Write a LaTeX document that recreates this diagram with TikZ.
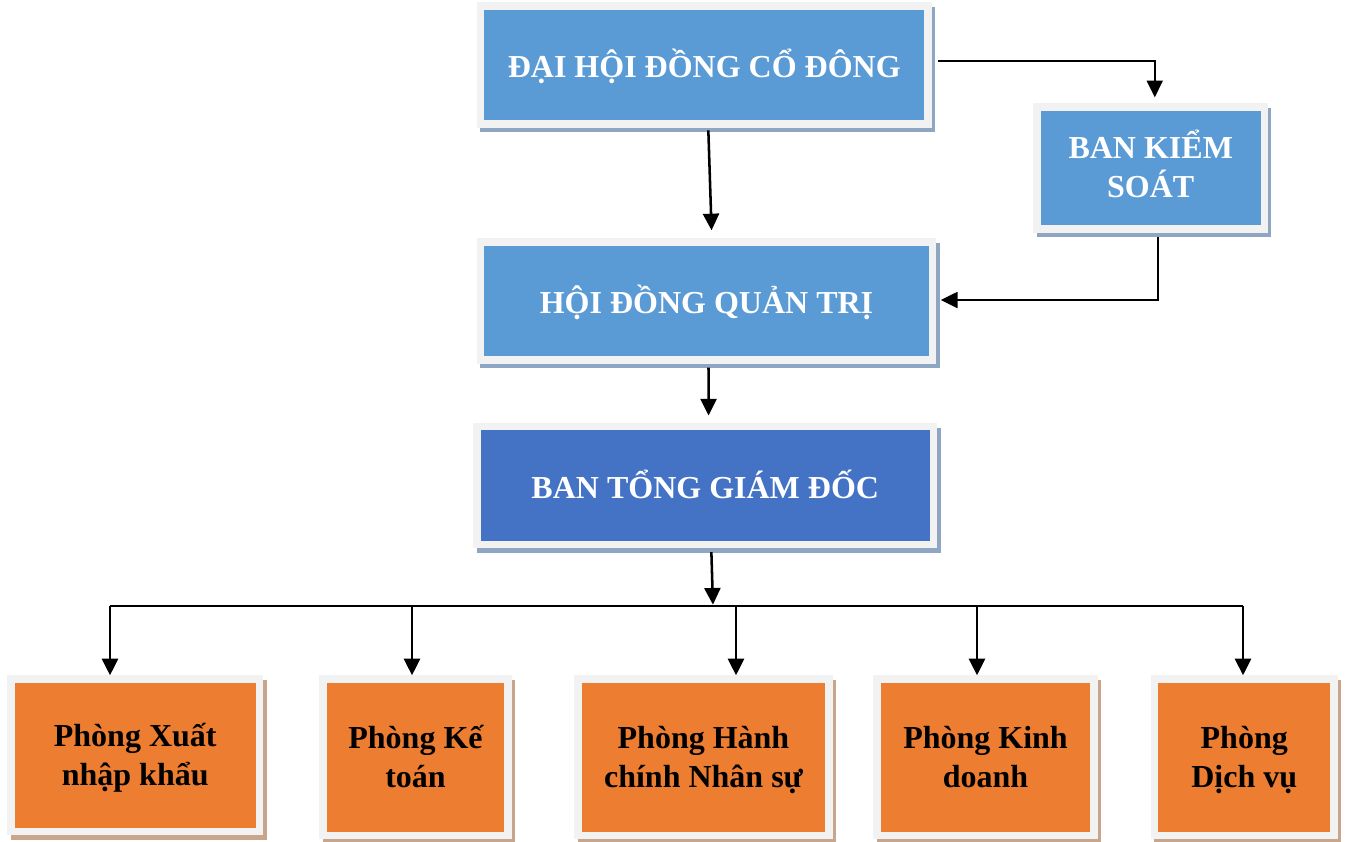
\documentclass[tikz,border=0pt]{standalone}
\usepackage{fontspec}
\setmainfont{Liberation Serif}
\usetikzlibrary{arrows.meta}
\definecolor{framegray}{HTML}{F2F2F2}
\definecolor{lblue}{HTML}{5B9BD5}
\definecolor{dblue}{HTML}{4472C4}
\definecolor{orng}{HTML}{ED7D31}
\definecolor{bshadow}{HTML}{8EA6C2}
\definecolor{oshadow}{HTML}{C9A58C}
\tikzset{
  boxbase/.style={draw=framegray, line width=5.5pt, align=center, inner sep=0pt,
    text height=19pt, text depth=0pt,
    font=\fontsize{24}{29.25}\selectfont\bfseries},
  twoline/.style={text height=#1, text depth=0pt},
  bluebox/.style={boxbase, fill=lblue, text=white,
    preaction={draw=bshadow, fill=bshadow, transform canvas={shift={(2.5pt,-3.5pt)}}}},
  darkbox/.style={boxbase, fill=dblue, text=white,
    preaction={draw=bshadow, fill=bshadow, transform canvas={shift={(2.5pt,-3.5pt)}}}},
  orangebox/.style={boxbase, fill=orng, text=black, twoline=45pt,
    preaction={draw=oshadow, fill=oshadow, transform canvas={shift={(2.5pt,-3.5pt)}}}},
  arr/.style={line width=1.9pt, -{Triangle[length=12.5pt,width=12pt]}},
  busline/.style={line width=1.2pt}
}
\begin{document}
\begin{tikzpicture}[x=0.75pt,y=-0.75pt]
\useasboundingbox (0,0) rectangle (1346,842);
% top-level boxes
\node[bluebox, minimum width=335.6pt, minimum height=88.5pt] (A) at (704.25,65) {ĐẠI HỘI ĐỒNG CỔ ĐÔNG};
\node[bluebox, twoline=43.5pt, minimum width=170.6pt, minimum height=91.5pt] (B) at (1150.75,168) {BAN KIỂM\\SOÁT};
\node[bluebox, minimum width=339pt, minimum height=88.5pt] (C) at (706.5,301) {HỘI ĐỒNG QUẢN TRỊ};
\node[darkbox, minimum width=342.4pt, minimum height=88.5pt] (D) at (705.25,485.5) {BAN TỔNG GIÁM ĐỐC};
% departments
\node[orangebox, minimum width=186.4pt, minimum height=114.4pt] (E1) at (135.25,755.25) {Phòng Xuất\\nhập khẩu};
\node[orangebox, minimum width=138.75pt, minimum height=117.4pt] (E2) at (415.5,757.25) {Phòng Kế\\toán};
\node[orangebox, minimum width=188.25pt, minimum height=117.4pt] (E3) at (703.5,757.25) {Phòng Hành\\chính Nhân sự};
\node[orangebox, minimum width=162.75pt, minimum height=117.4pt] (E4) at (985.5,757.25) {Phòng Kinh\\doanh};
\node[orangebox, minimum width=134.6pt, minimum height=117.4pt] (E5) at (1244.25,757.25) {Phòng\\Dịch vụ};
% connectors
\draw[arr, shorten <=2pt, shorten >=6pt] ([xshift=3pt]A.south) -- ([xshift=4pt]C.north);
\draw[arr, line width=1.4pt, shorten <=4pt, shorten >=4.5pt] ([xshift=1pt,yshift=3pt]A.east) -| ([xshift=3pt]B.north);
\draw[arr, line width=1.4pt, shorten <=3pt, shorten >=3.5pt] ([xshift=5.5pt]B.south) |- ([yshift=0.75pt]C.east);
\draw[arr, shorten <=3pt, shorten >=5.5pt] ([xshift=1.5pt]C.south) -- ([xshift=2.5pt]D.north);
\coordinate (bus) at (713,606);
\draw[arr, shorten <=3pt, shorten >=1pt] ([xshift=4.5pt]D.south) -- (bus);
\coordinate (b1) at (110,606);
\coordinate (b2) at (412,606);
\coordinate (b3) at (736,606);
\coordinate (b4) at (977,606);
\coordinate (b5) at (1243,606);
\draw[busline] (b1) -- (b5);
\draw[arr] (b1) -- (b1 |- E1.north);
\draw[arr] (b2) -- (b2 |- E2.north);
\draw[arr] (b3) -- (b3 |- E3.north);
\draw[arr] (b4) -- (b4 |- E4.north);
\draw[arr] (b5) -- (b5 |- E5.north);
\end{tikzpicture}
\end{document}
